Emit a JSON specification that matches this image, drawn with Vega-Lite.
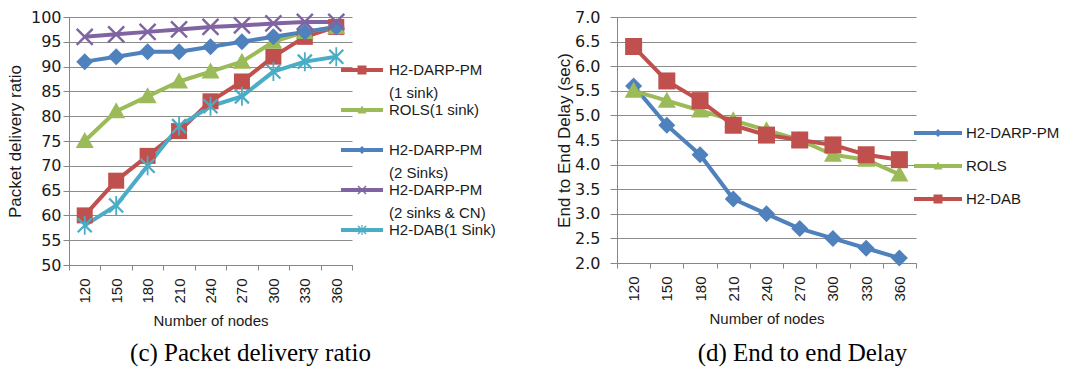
{
  "$schema": "https://vega.github.io/schema/vega-lite/v6.json",
  "background": "white",
  "padding": {"left": 6, "top": 9, "right": 5, "bottom": 5},
  "bounds": "flush",
  "spacing": 265,
  "resolve": {"scale": {"color": "independent", "shape": "independent", "x": "independent", "y": "independent"}, "legend": {"color": "independent", "shape": "independent"}},
  "config": {
    "view": {"stroke": null},
    "font": "Liberation Sans",
    "axis": {
      "domainColor": "#868686",
      "tickColor": "#868686",
      "gridColor": "#8c8c8c",
      "labelColor": "#1a1a1a",
      "titleColor": "#1a1a1a",
      "titleFontWeight": "normal",
      "titleFont": "Liberation Sans"
    },
    "legend": {
      "labelColor": "#1a1a1a",
      "labelFont": "Liberation Sans"
    }
  },
  "datasets": {
    "pdr": [
      {"nodes": 120, "series": "H2-DARP-PM (1 sink)", "value": 60},
      {"nodes": 150, "series": "H2-DARP-PM (1 sink)", "value": 67},
      {"nodes": 180, "series": "H2-DARP-PM (1 sink)", "value": 72},
      {"nodes": 210, "series": "H2-DARP-PM (1 sink)", "value": 77},
      {"nodes": 240, "series": "H2-DARP-PM (1 sink)", "value": 83},
      {"nodes": 270, "series": "H2-DARP-PM (1 sink)", "value": 87},
      {"nodes": 300, "series": "H2-DARP-PM (1 sink)", "value": 92},
      {"nodes": 330, "series": "H2-DARP-PM (1 sink)", "value": 96},
      {"nodes": 360, "series": "H2-DARP-PM (1 sink)", "value": 98},
      {"nodes": 120, "series": "ROLS(1 sink)", "value": 75},
      {"nodes": 150, "series": "ROLS(1 sink)", "value": 81},
      {"nodes": 180, "series": "ROLS(1 sink)", "value": 84},
      {"nodes": 210, "series": "ROLS(1 sink)", "value": 87},
      {"nodes": 240, "series": "ROLS(1 sink)", "value": 89},
      {"nodes": 270, "series": "ROLS(1 sink)", "value": 91},
      {"nodes": 300, "series": "ROLS(1 sink)", "value": 95},
      {"nodes": 330, "series": "ROLS(1 sink)", "value": 97},
      {"nodes": 360, "series": "ROLS(1 sink)", "value": 98},
      {"nodes": 120, "series": "H2-DARP-PM (2 Sinks)", "value": 91},
      {"nodes": 150, "series": "H2-DARP-PM (2 Sinks)", "value": 92},
      {"nodes": 180, "series": "H2-DARP-PM (2 Sinks)", "value": 93},
      {"nodes": 210, "series": "H2-DARP-PM (2 Sinks)", "value": 93},
      {"nodes": 240, "series": "H2-DARP-PM (2 Sinks)", "value": 94},
      {"nodes": 270, "series": "H2-DARP-PM (2 Sinks)", "value": 95},
      {"nodes": 300, "series": "H2-DARP-PM (2 Sinks)", "value": 96},
      {"nodes": 330, "series": "H2-DARP-PM (2 Sinks)", "value": 97},
      {"nodes": 360, "series": "H2-DARP-PM (2 Sinks)", "value": 98},
      {"nodes": 120, "series": "H2-DARP-PM (2 sinks & CN)", "value": 96},
      {"nodes": 150, "series": "H2-DARP-PM (2 sinks & CN)", "value": 96.5},
      {"nodes": 180, "series": "H2-DARP-PM (2 sinks & CN)", "value": 97},
      {"nodes": 210, "series": "H2-DARP-PM (2 sinks & CN)", "value": 97.5},
      {"nodes": 240, "series": "H2-DARP-PM (2 sinks & CN)", "value": 98},
      {"nodes": 270, "series": "H2-DARP-PM (2 sinks & CN)", "value": 98.3},
      {"nodes": 300, "series": "H2-DARP-PM (2 sinks & CN)", "value": 98.7},
      {"nodes": 330, "series": "H2-DARP-PM (2 sinks & CN)", "value": 99},
      {"nodes": 360, "series": "H2-DARP-PM (2 sinks & CN)", "value": 99},
      {"nodes": 120, "series": "H2-DAB(1 Sink)", "value": 58},
      {"nodes": 150, "series": "H2-DAB(1 Sink)", "value": 62},
      {"nodes": 180, "series": "H2-DAB(1 Sink)", "value": 70},
      {"nodes": 210, "series": "H2-DAB(1 Sink)", "value": 78},
      {"nodes": 240, "series": "H2-DAB(1 Sink)", "value": 82},
      {"nodes": 270, "series": "H2-DAB(1 Sink)", "value": 84},
      {"nodes": 300, "series": "H2-DAB(1 Sink)", "value": 89},
      {"nodes": 330, "series": "H2-DAB(1 Sink)", "value": 91},
      {"nodes": 360, "series": "H2-DAB(1 Sink)", "value": 92}
    ],
    "delay": [
      {"nodes": 120, "series": "H2-DARP-PM", "value": 5.6},
      {"nodes": 150, "series": "H2-DARP-PM", "value": 4.8},
      {"nodes": 180, "series": "H2-DARP-PM", "value": 4.2},
      {"nodes": 210, "series": "H2-DARP-PM", "value": 3.3},
      {"nodes": 240, "series": "H2-DARP-PM", "value": 3.0},
      {"nodes": 270, "series": "H2-DARP-PM", "value": 2.7},
      {"nodes": 300, "series": "H2-DARP-PM", "value": 2.5},
      {"nodes": 330, "series": "H2-DARP-PM", "value": 2.3},
      {"nodes": 360, "series": "H2-DARP-PM", "value": 2.1},
      {"nodes": 120, "series": "ROLS", "value": 5.5},
      {"nodes": 150, "series": "ROLS", "value": 5.3},
      {"nodes": 180, "series": "ROLS", "value": 5.1},
      {"nodes": 210, "series": "ROLS", "value": 4.9},
      {"nodes": 240, "series": "ROLS", "value": 4.7},
      {"nodes": 270, "series": "ROLS", "value": 4.5},
      {"nodes": 300, "series": "ROLS", "value": 4.2},
      {"nodes": 330, "series": "ROLS", "value": 4.1},
      {"nodes": 360, "series": "ROLS", "value": 3.8},
      {"nodes": 120, "series": "H2-DAB", "value": 6.4},
      {"nodes": 150, "series": "H2-DAB", "value": 5.7},
      {"nodes": 180, "series": "H2-DAB", "value": 5.3},
      {"nodes": 210, "series": "H2-DAB", "value": 4.8},
      {"nodes": 240, "series": "H2-DAB", "value": 4.6},
      {"nodes": 270, "series": "H2-DAB", "value": 4.5},
      {"nodes": 300, "series": "H2-DAB", "value": 4.4},
      {"nodes": 330, "series": "H2-DAB", "value": 4.2},
      {"nodes": 360, "series": "H2-DAB", "value": 4.1}
    ]
  },
  "hconcat": [
    {
      "width": 283,
      "height": 248,
      "data": {"name": "pdr"},
      "title": {"text": "(c) Packet delivery ratio", "orient": "bottom", "anchor": "middle", "frame": "group", "dx": 40, "font": "Liberation Serif", "fontSize": 25, "fontWeight": "normal", "color": "black", "offset": 13},
      "encoding": {
        "x": {
          "field": "nodes", "type": "ordinal",
          "scale": {"type": "band", "paddingInner": 0, "paddingOuter": 0},
          "axis": {"title": "Number of nodes", "labelAngle": -90, "tickBand": "extent", "grid": false, "tickSize": 5, "labelPadding": 8, "labelFontSize": 15, "titleFontSize": 15, "titlePadding": 10}
        },
        "y": {
          "field": "value", "type": "quantitative",
          "scale": {"domain": [50, 100], "nice": false, "zero": false},
          "axis": {"title": "Packet delivery ratio", "values": [50, 55, 60, 65, 70, 75, 80, 85, 90, 95, 100], "grid": true, "tickSize": 6, "labelPadding": 2, "labelFont": "DejaVu Sans", "labelFontSize": 16, "titleFontSize": 17, "titlePadding": 6}
        },
        "color": {
          "field": "series", "type": "nominal",
          "scale": {
            "domain": ["H2-DARP-PM (1 sink)", "ROLS(1 sink)", "H2-DARP-PM (2 Sinks)", "H2-DARP-PM (2 sinks & CN)", "H2-DAB(1 Sink)"],
            "range": ["#C0504D", "#9BBB59", "#4F81BD", "#8064A2", "#4BACC6"]
          },
          "legend": {
            "orient": "none", "legendX": 285.5, "legendY": 45.5, "title": null, "padding": 0,
            "symbolSize": 4, "symbolStrokeWidth": 0, "symbolOpacity": 1, "labelOffset": 19.5, "labelFontSize": 15,
            "labelBaseline": "middle", "rowPadding": 1, "labelLimit": 300,
            "labelExpr": "indexof(datum.label, ' (') > 0 ? [substring(datum.label, 0, indexof(datum.label, ' (')), substring(datum.label, indexof(datum.label, ' (') + 1)] : [datum.label, '']",
            "encode": {"labels": {"update": {"lineHeight": {"value": 23}}}}
          }
        }
      },
      "layer": [
        {"mark": {"type": "line", "strokeWidth": 4, "strokeJoin": "round"}},
        {
          "mark": {"type": "point", "filled": true, "opacity": 0, "size": 4, "strokeWidth": 0},
          "encoding": {
            "shape": {
              "field": "series", "type": "nominal",
              "scale": {
                "domain": ["H2-DARP-PM (1 sink)", "ROLS(1 sink)", "H2-DARP-PM (2 Sinks)", "H2-DARP-PM (2 sinks & CN)", "H2-DAB(1 Sink)"],
                "range": [
                  "M-21,-2H21V2H-21Z M-4.5,-4.5H4.5V4.5H-4.5Z",
                  "M-21,-2H21V2H-21Z M0,-4.5L4.5,3.5H-4.5Z",
                  "M-21,-2H21V2H-21Z M0,-4L4,0L0,4L-4,0Z",
                  "M-21,-2H21V2H-21Z M-3.5,-4.5L4.5,3.5L3.5,4.5L-4.5,-3.5Z M3.5,-4.5L4.5,-3.5L-3.5,4.5L-4.5,3.5Z",
                  "M-21,-2H21V2H-21Z M-3.5,-4.5L4.5,3.5L3.5,4.5L-4.5,-3.5Z M3.5,-4.5L4.5,-3.5L-3.5,4.5L-4.5,3.5Z M-0.6,-5H0.6V5H-0.6Z"
                ]
              },
              "legend": {
                "orient": "none", "legendX": 285.5, "legendY": 45.5, "title": null, "padding": 0,
                "symbolSize": 4, "symbolStrokeWidth": 0, "symbolOpacity": 1, "labelOffset": 19.5, "labelFontSize": 15,
                "labelBaseline": "middle", "rowPadding": 1, "labelLimit": 300,
                "labelExpr": "indexof(datum.label, ' (') > 0 ? [substring(datum.label, 0, indexof(datum.label, ' (')), substring(datum.label, indexof(datum.label, ' (') + 1)] : [datum.label, '']",
                "encode": {"labels": {"update": {"lineHeight": {"value": 23}}}}
              }
            }
          }
        },
        {"transform": [{"filter": {"field": "series", "equal": "H2-DARP-PM (1 sink)"}}], "mark": {"type": "point", "filled": true, "opacity": 1, "size": 4, "strokeWidth": 0, "shape": "M-8,-8H8V8H-8Z"}},
        {"transform": [{"filter": {"field": "series", "equal": "ROLS(1 sink)"}}], "mark": {"type": "point", "filled": true, "opacity": 1, "size": 4, "strokeWidth": 0, "shape": "M0,-9L9,7H-9Z"}},
        {"transform": [{"filter": {"field": "series", "equal": "H2-DARP-PM (2 Sinks)"}}], "mark": {"type": "point", "filled": true, "opacity": 1, "size": 4, "strokeWidth": 0, "shape": "M0,-8.5L8.5,0L0,8.5L-8.5,0Z"}},
        {"transform": [{"filter": {"field": "series", "equal": "H2-DARP-PM (2 sinks & CN)"}}], "mark": {"type": "point", "filled": true, "opacity": 1, "size": 4, "strokeWidth": 0, "shape": "M-7.15,-8.85L8.85,7.15L7.15,8.85L-8.85,-7.15Z M7.15,-8.85L8.85,-7.15L-7.15,8.85L-8.85,7.15Z"}},
        {"transform": [{"filter": {"field": "series", "equal": "H2-DAB(1 Sink)"}}], "mark": {"type": "point", "filled": true, "opacity": 1, "size": 4, "strokeWidth": 0, "shape": "M-6.2,-7.8L7.8,6.2L6.2,7.8L-7.8,-6.2Z M6.2,-7.8L7.8,-6.2L-6.2,7.8L-7.8,6.2Z M-0.9,-9.5H0.9V9.5H-0.9Z"}}
      ]
    },
    {
      "width": 299,
      "height": 246,
      "data": {"name": "delay"},
      "title": {"text": "(d) End to end Delay", "orient": "bottom", "anchor": "middle", "frame": "group", "dx": 36, "font": "Liberation Serif", "fontSize": 25, "fontWeight": "normal", "color": "black", "offset": 15},
      "encoding": {
        "x": {
          "field": "nodes", "type": "ordinal",
          "scale": {"type": "band", "paddingInner": 0, "paddingOuter": 0},
          "axis": {"title": "Number of nodes", "labelAngle": -90, "tickBand": "extent", "grid": false, "tickSize": 5, "labelPadding": 8, "labelFontSize": 15, "titleFontSize": 15, "titlePadding": 10}
        },
        "y": {
          "field": "value", "type": "quantitative",
          "scale": {"domain": [2, 7], "nice": false, "zero": false},
          "axis": {"title": "End to End Delay (sec)", "format": ".1f", "values": [2, 2.5, 3, 3.5, 4, 4.5, 5, 5.5, 6, 6.5, 7], "grid": true, "tickSize": 7, "labelPadding": 10, "labelFont": "DejaVu Sans", "labelFontSize": 16, "titleFontSize": 17, "titlePadding": 1}
        },
        "color": {
          "field": "series", "type": "nominal",
          "scale": {
            "domain": ["H2-DARP-PM", "ROLS", "H2-DAB"],
            "range": ["#4F81BD", "#9BBB59", "#C0504D"]
          },
          "legend": {
            "orient": "none", "legendX": 313.5, "legendY": 108.5, "title": null, "padding": 0,
            "symbolSize": 4, "symbolStrokeWidth": 0, "symbolOpacity": 1, "labelOffset": 20.5, "labelFontSize": 15,
            "labelBaseline": "middle", "rowPadding": 17, "labelLimit": 300
          }
        }
      },
      "layer": [
        {"mark": {"type": "line", "strokeWidth": 4, "strokeJoin": "round"}},
        {
          "mark": {"type": "point", "filled": true, "opacity": 0, "size": 4, "strokeWidth": 0},
          "encoding": {
            "shape": {
              "field": "series", "type": "nominal",
              "scale": {
                "domain": ["H2-DARP-PM", "ROLS", "H2-DAB"],
                "range": [
                  "M-24,-2H24V2H-24Z M0,-4L4,0L0,4L-4,0Z",
                  "M-24,-2H24V2H-24Z M0,-4.5L4.5,3.5H-4.5Z",
                  "M-24,-2H24V2H-24Z M-4.5,-4.5H4.5V4.5H-4.5Z"
                ]
              },
              "legend": {
                "orient": "none", "legendX": 313.5, "legendY": 108.5, "title": null, "padding": 0,
                "symbolSize": 4, "symbolStrokeWidth": 0, "symbolOpacity": 1, "labelOffset": 20.5, "labelFontSize": 15,
                "labelBaseline": "middle", "rowPadding": 17, "labelLimit": 300
              }
            }
          }
        },
        {"transform": [{"filter": {"field": "series", "equal": "H2-DARP-PM"}}], "mark": {"type": "point", "filled": true, "opacity": 1, "size": 4, "strokeWidth": 0, "shape": "M0,-8.5L8.5,0L0,8.5L-8.5,0Z"}},
        {"transform": [{"filter": {"field": "series", "equal": "ROLS"}}], "mark": {"type": "point", "filled": true, "opacity": 1, "size": 4, "strokeWidth": 0, "shape": "M0,-9L9,7H-9Z"}},
        {"transform": [{"filter": {"field": "series", "equal": "H2-DAB"}}], "mark": {"type": "point", "filled": true, "opacity": 1, "size": 4, "strokeWidth": 0, "shape": "M-8.5,-8.5H8.5V8.5H-8.5Z"}}
      ]
    }
  ]
}
